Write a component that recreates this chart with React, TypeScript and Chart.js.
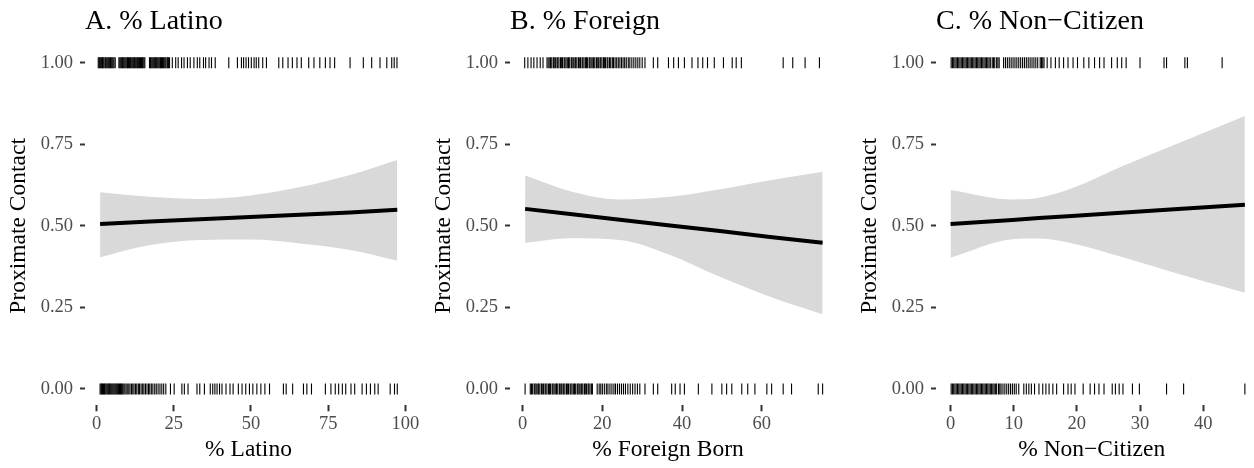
import React, { useEffect, useRef } from "react";
import { Chart, registerables } from "chart.js";

Chart.register(...registerables);

// ---- Panel A: % Latino ----
const latinoX = [1.1, 17.3, 33.5, 49.7, 65.9, 82.1, 97.4];
const latinoFit = [0.506, 0.513, 0.52, 0.527, 0.534, 0.541, 0.549];
const latinoLo = [0.404, 0.441, 0.457, 0.458, 0.446, 0.426, 0.393];
const latinoHi = [0.603, 0.589, 0.582, 0.593, 0.619, 0.656, 0.702];
const latinoContact = [
  0.5, 0.8, 1.0, 1.3, 1.6, 1.9, 2.1, 2.4, 2.8, 3.0, 3.3, 3.6, 3.9, 4.2, 4.5, 4.7, 5.0, 5.3, 5.6, 6.0,
  7.2, 7.5, 7.8, 8.1, 8.4, 8.6, 8.9, 9.2, 9.5, 9.8, 10.0, 10.3, 10.6, 10.9, 11.1, 11.4, 11.7, 12.0,
  12.2, 12.5, 12.8, 13.1, 13.3, 13.6, 13.9, 14.2, 14.5, 14.8, 15.0, 15.3, 15.6,
  17.1, 17.4, 17.6, 17.9, 18.2, 18.5, 18.8, 19.1, 19.3, 19.6, 19.9, 20.2, 20.5, 20.7, 21.0, 21.3,
  21.6, 21.8, 22.1, 22.4, 22.8, 23.0, 23.3, 23.6,
  24.5, 25.6, 26.4, 27.5, 28.3, 29.4, 30.3, 31.5, 32.6, 33.4,
  34.6, 35.3, 36.4, 37.2, 38.4, 42.8,
  45.6, 46.9, 47.6, 48.4, 49.2, 50.1, 51.0, 51.7, 52.5, 53.8, 55.0,
  59.0, 60.3, 62.0, 63.4, 64.9, 66.3, 68.7, 70.4, 72.3, 74.1, 75.6, 77.1,
  82.1, 86.4, 89.1, 91.8, 94.0, 95.6, 96.4, 97.3,
];
const latinoNoContact = [
  1.1, 1.4, 1.6, 1.9, 2.2, 2.5, 2.7, 3.0, 3.3, 3.6, 3.9, 4.1, 4.4, 4.7, 5.0, 5.3, 5.6, 5.9, 6.2,
  6.5, 6.8, 7.1, 7.4, 7.7, 8.0, 8.3, 8.6,
  9.1, 9.5, 9.9, 10.4, 10.8, 11.3, 11.7, 12.1, 12.6, 13.0, 13.5, 13.9, 14.4, 14.9, 15.3, 15.8,
  16.3, 16.8, 17.2, 17.7, 18.2, 18.8, 19.3, 19.9, 20.5, 21.1, 21.7, 22.4,
  23.9, 25.1, 27.6, 28.4, 29.6, 32.5, 33.4, 34.9,
  36.8, 37.6, 38.3, 39.0, 39.8, 40.6, 41.9, 43.2, 44.2,
  45.9, 47.1, 48.3, 49.5, 50.6, 51.9, 53.2, 54.5, 56.0,
  60.5, 61.4, 63.5, 67.0, 68.1, 69.6,
  74.1, 75.9, 77.3, 78.4, 79.6, 80.7, 82.4, 83.6,
  86.0, 87.4, 88.7, 90.1, 91.2, 95.1, 96.5, 97.4,
];
const latinoTicks = [0, 25, 50, 75, 100];

// ---- Panel B: % Foreign ----
const foreignX = [0.6, 11.9, 24.4, 37.0, 49.5, 62.1, 75.3];
const foreignFit = [0.552, 0.536, 0.519, 0.501, 0.484, 0.466, 0.448];
const foreignLo = [0.448, 0.462, 0.457, 0.411, 0.344, 0.283, 0.229];
const foreignHi = [0.654, 0.606, 0.581, 0.589, 0.612, 0.64, 0.666];
const foreignContact = [
  0.5, 1.3, 2.1, 2.8, 3.6, 4.4, 5.1,
  6.1, 6.4, 6.8, 7.0, 7.3, 7.7, 7.9, 8.2, 8.6, 8.8, 9.1, 9.5, 9.7, 10.0, 10.4, 10.6, 10.9,
  11.3, 11.5, 11.8, 12.2, 12.4, 12.7, 13.1, 13.3, 13.6, 14.0, 14.2, 14.5, 14.9, 15.1, 15.4,
  15.8, 16.0, 16.3, 16.7, 16.9, 17.2, 17.6, 17.8, 18.1, 18.5, 18.7, 19.0, 19.4, 19.6, 19.9,
  20.3, 20.5, 20.8, 21.2, 21.4, 21.8, 22.1, 22.5, 22.8, 23.2, 23.6, 24.0, 24.4, 24.8, 25.2,
  25.6, 26.0, 26.5, 26.9, 27.4, 27.9, 28.4, 28.9, 29.4, 30.0, 30.7,
  32.8, 33.9, 36.6, 37.9, 39.1, 40.6, 42.5, 44.0, 45.2, 46.4, 48.1, 50.4,
  52.6, 53.6, 54.9, 65.4, 67.8, 70.9, 74.5,
];
const foreignNoContact = [
  0.6,
  1.9, 2.2, 2.5, 2.9, 3.1, 3.4, 3.8, 4.0, 4.3, 4.7, 4.9, 5.2, 5.6, 5.8, 6.1, 6.5, 6.7, 7.0,
  7.4, 7.6, 7.9, 8.3, 8.5, 8.8, 9.2, 9.4, 9.7, 10.1, 10.3, 10.6, 11.0, 11.2, 11.5, 11.9, 12.1,
  12.4, 12.8, 13.0, 13.3, 13.7, 13.9, 14.2, 14.6, 14.8, 15.1, 15.5, 15.7, 16.0, 16.4, 16.6,
  16.9, 17.3, 17.5,
  18.7, 19.2, 19.6, 20.0, 20.5, 21.0, 21.4, 21.9, 22.4, 22.9, 23.3, 23.8, 24.3, 24.8, 25.3,
  25.8, 26.4, 27.0, 27.6, 28.2, 28.8, 29.4, 30.7,
  32.8, 33.9, 37.4, 38.3, 39.5, 40.6, 44.1, 47.5,
  50.0, 51.2, 52.5, 55.0, 56.5, 58.3, 61.3, 62.5, 65.4, 67.5, 74.2, 75.3,
];
const foreignTicks = [0, 20, 40, 60];

// ---- Panel C: % Non-Citizen ----
const citizenX = [0, 9.8, 14.0, 19.2, 27.0, 34.8, 46.6];
const citizenFit = [0.506, 0.518, 0.524, 0.53, 0.54, 0.55, 0.565];
const citizenLo = [0.402, 0.459, 0.461, 0.447, 0.405, 0.36, 0.295];
const citizenHi = [0.61, 0.581, 0.586, 0.615, 0.681, 0.743, 0.837];
const citizenContact = [
  0.1, 0.3, 0.5, 0.7, 0.9, 1.1, 1.3, 1.5, 1.7, 1.9, 2.1, 2.3, 2.5, 2.7, 2.9, 3.1, 3.3, 3.5,
  3.7, 3.9, 4.1, 4.3, 4.5, 4.7, 4.9, 5.1, 5.3, 5.5, 5.7, 5.9, 6.1, 6.3, 6.6, 6.8, 7.0, 7.3,
  7.5, 7.7,
  8.4, 8.7, 9.0, 9.3, 9.6, 9.9, 10.2, 10.5, 10.8, 11.1, 11.4, 11.7, 12.0, 12.3, 12.6, 12.9,
  13.2, 13.5, 13.8, 14.2, 14.4, 14.6, 14.8,
  15.3, 15.9, 16.6, 17.2, 17.9, 18.6, 19.4, 20.1,
  21.1, 21.9, 22.8, 23.6, 24.3, 25.5, 26.4, 27.1, 27.8,
  30.0, 33.8, 34.2, 37.1, 37.5, 43.0,
];
const citizenNoContact = [
  0.1, 0.3, 0.5, 0.7, 0.9, 1.1, 1.3, 1.5, 1.7, 1.9, 2.1, 2.3, 2.5, 2.7, 2.9, 3.1, 3.3, 3.5,
  3.7, 3.9, 4.1, 4.3, 4.5, 4.7, 4.9, 5.1, 5.3, 5.5, 5.7, 5.9, 6.1, 6.3, 6.5, 6.7, 6.9, 7.1,
  7.3, 7.6, 7.8, 8.0, 8.3, 8.6, 8.9, 9.2, 9.5, 9.8, 10.1, 10.4, 10.8,
  11.6, 12.0, 12.4, 12.8, 13.3, 14.0, 14.6, 15.1, 15.6, 16.2, 16.8,
  17.9, 18.6, 19.1, 19.7, 21.0, 22.1, 22.8, 23.5, 24.3, 25.6, 26.1, 26.7, 27.3,
  28.8, 29.9, 34.2, 36.9, 46.6,
];
const citizenTicks = [0, 10, 20, 30, 40];

const yTicks = [0, 0.25, 0.5, 0.75, 1];

const SERIF = "'Liberation Serif', 'Times New Roman', Times, serif";
const HEIGHT = 468;

type PanelSpec = {
  title: string;
  xTitle: string;
  xs: number[];
  fit: number[];
  lo: number[];
  hi: number[];
  contact: number[];
  noContact: number[];
  xTicks: number[];
  xMin: number;
  xMax: number;
  width: number;
  padRight: number;
};

const panels: PanelSpec[] = [
  {
    title: "A. % Latino",
    xTitle: "% Latino",
    xs: latinoX,
    fit: latinoFit,
    lo: latinoLo,
    hi: latinoHi,
    contact: latinoContact,
    noContact: latinoNoContact,
    xTicks: latinoTicks,
    xMin: -3.79,
    xMax: 102.17,
    width: 425,
    padRight: 13,
  },
  {
    title: "B. % Foreign",
    xTitle: "% Foreign Born",
    xs: foreignX,
    fit: foreignFit,
    lo: foreignLo,
    hi: foreignHi,
    contact: foreignContact,
    noContact: foreignNoContact,
    xTicks: foreignTicks,
    xMin: -3.19,
    xMax: 76.15,
    width: 426,
    padRight: 25,
  },
  {
    title: "C. % Non\u2212Citizen",
    xTitle: "% Non\u2212Citizen",
    xs: citizenX,
    fit: citizenFit,
    lo: citizenLo,
    hi: citizenHi,
    contact: citizenContact,
    noContact: citizenNoContact,
    xTicks: citizenTicks,
    xMin: -2.3,
    xMax: 47.0,
    width: 403,
    padRight: 3,
  },
];

function pairs(xs: number[], ys: number[]) {
  return xs.map((x, i) => ({ x, y: ys[i] }));
}

function rug(xs: number[], y: number) {
  return xs.map((x) => ({ x, y }));
}

function Panel({ spec }: { spec: PanelSpec }) {
  const ref = useRef<HTMLCanvasElement | null>(null);

  useEffect(() => {
    if (!ref.current) return;
    const tickFont = { family: SERIF, size: 18.5 };
    const titleFont = { family: SERIF, size: 23.5 };
    const rugStyle = {
      showLine: false,
      pointStyle: "line" as const,
      pointRotation: 90,
      pointRadius: 5.5,
      pointBorderColor: "#000000",
      pointBackgroundColor: "#000000",
      pointBorderWidth: 1.1,
      borderColor: "#000000",
      order: 1,
    };

    const chart = new Chart(ref.current, {
      type: "line",
      data: {
        datasets: [
          {
            label: "lower",
            data: pairs(spec.xs, spec.lo),
            borderColor: "rgba(0,0,0,0)",
            borderWidth: 0,
            pointRadius: 0,
            fill: false,
            cubicInterpolationMode: "monotone",
            order: 4,
          },
          {
            label: "upper",
            data: pairs(spec.xs, spec.hi),
            borderColor: "rgba(0,0,0,0)",
            borderWidth: 0,
            pointRadius: 0,
            backgroundColor: "#d9d9d9",
            fill: "-1",
            cubicInterpolationMode: "monotone",
            order: 3,
          },
          {
            label: "fit",
            data: pairs(spec.xs, spec.fit),
            borderColor: "#000000",
            borderWidth: 4,
            pointRadius: 0,
            fill: false,
            order: 2,
          },
          { label: "contact", data: rug(spec.contact, 1), ...rugStyle },
          { label: "no contact", data: rug(spec.noContact, 0), ...rugStyle },
        ],
      },
      options: {
        animation: false,
        responsive: false,
        events: [],
        layout: { padding: { left: 0, right: spec.padRight, top: 0, bottom: 0 } },
        plugins: {
          legend: { display: false },
          tooltip: { enabled: false },
          title: {
            display: true,
            text: spec.title,
            align: "start",
            fullSize: false,
            color: "#000000",
            font: { family: SERIF, size: 28, weight: "normal" },
            padding: { top: 4.5, bottom: 8.3 },
          },
        },
        scales: {
          x: {
            type: "linear",
            min: spec.xMin,
            max: spec.xMax,
            afterBuildTicks: (s: any) => {
              s.ticks = spec.xTicks.map((v) => ({ value: v }));
            },
            afterFit: (s: any) => {
              s.height = 62.7;
              s.paddingLeft = 0;
              s.paddingRight = 0;
            },
            ticks: {
              font: tickFont,
              color: "#4d4d4d",
              padding: 2,
              maxRotation: 0,
              autoSkip: false,
              callback: (v: any) => String(v),
            },
            grid: {
              display: true,
              drawOnChartArea: false,
              drawTicks: true,
              tickLength: 6,
              tickWidth: 2,
              tickColor: "#333333",
            },
            border: { display: false },
            title: {
              display: true,
              text: spec.xTitle,
              color: "#000000",
              font: titleFont,
              padding: { top: 0, bottom: 4 },
            },
          },
          y: {
            type: "linear",
            min: -0.05,
            max: 1.05,
            afterBuildTicks: (s: any) => {
              s.ticks = yTicks.map((v) => ({ value: v }));
            },
            afterFit: (s: any) => {
              s.width = 85;
              s.paddingTop = 0;
              s.paddingBottom = 0;
            },
            ticks: {
              font: tickFont,
              color: "#4d4d4d",
              padding: 7,
              callback: (v: any) => Number(v).toFixed(2),
            },
            grid: {
              display: true,
              drawOnChartArea: false,
              drawTicks: true,
              tickLength: 5,
              tickWidth: 2,
              tickColor: "#333333",
            },
            border: { display: false },
            title: {
              display: true,
              text: "Proximate Contact",
              color: "#000000",
              font: titleFont,
              padding: { top: 5, bottom: 0 },
            },
          },
        },
      } as any,
    });

    return () => chart.destroy();
  }, [spec]);

  return (
    <canvas
      ref={ref}
      width={spec.width}
      height={HEIGHT}
      style={{ display: "block", width: spec.width, height: HEIGHT }}
    />
  );
}

export default function App() {
  return (
    <div
      style={{
        position: "absolute",
        left: 0,
        top: 0,
        width: 1254,
        height: HEIGHT,
        display: "flex",
        background: "#ffffff",
      }}
    >
      {panels.map((p) => (
        <Panel key={p.title} spec={p} />
      ))}
    </div>
  );
}
